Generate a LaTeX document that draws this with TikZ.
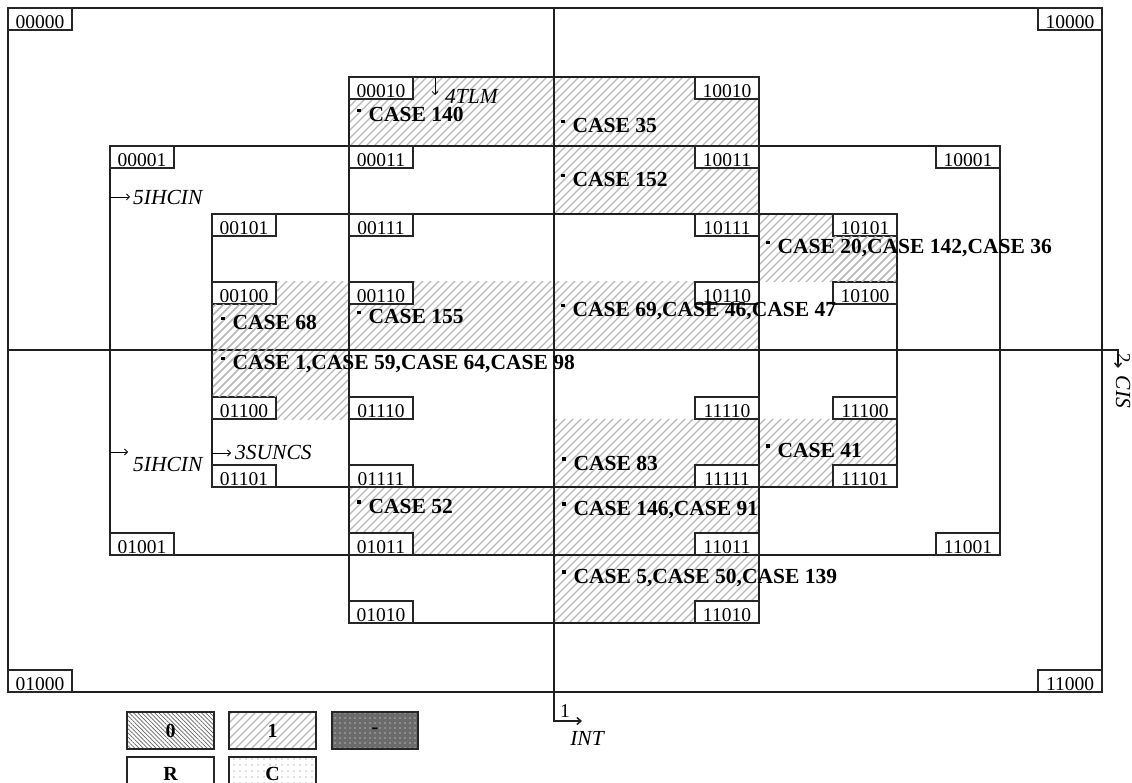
\documentclass[tikz,border=0pt]{standalone}
\usepackage{fontspec}
\setmainfont{Liberation Serif}
\usetikzlibrary{patterns.meta,arrows.meta}
\newcommand\casebul{\rule[9.5pt]{3.4pt}{3.4pt}\hspace{8pt}}
\newcommand\hatchrect[4]{%
  \begin{scope}
    \clip (#1,#2) rectangle (#3,#4);
    \foreach \c in {400,408,...,1400} \draw[hatchline] ({\c-#4-8},{#4+8}) -- ({\c-#2+8},{#2-8});
  \end{scope}}
% label box: name, x-left, y-top, text
\newcommand\cell[4]{%
  \draw[labbox] (#2,#3) rectangle ++(64,22);
  \node[labtxt] (#1) at ({#2+32},{#3+20.5}) {#4};}
\begin{document}
\begin{tikzpicture}[x=1pt,y=-1pt,
  gridline/.style={line width=1.5pt, draw=black!88},
  hatchline/.style={line width=1.3pt, draw=black!28},
  labbox/.style={draw=black!85, line width=1.2pt, fill=white},
  labtxt/.style={anchor=base, inner sep=0pt, font=\fontsize{19.5}{19.5}\selectfont},
  casetxt/.style={anchor=base west, inner sep=0pt, font=\fontsize{21.5}{22}\selectfont\bfseries},
  ital/.style={inner sep=0pt, font=\fontsize{21.5}{21.5}\selectfont\itshape},
  smallarr/.style={line width=0.8pt, -{Straight Barb[length=3pt,width=6pt]}},
  bigarr/.style={gridline, -{Straight Barb[length=4pt,width=7pt]}},
  legbox/.style={draw=black!85, line width=1.4pt},
  legtxt/.style={inner sep=0pt, font=\fontsize{20}{20}\selectfont\bfseries}
]
\useasboundingbox (0,0) rectangle (1132,783);
\clip (0,0) rectangle (1132,783);
\fill[white] (0,0) rectangle (1132,783);

% hatched regions (value 1)
\hatchrect{349}{77}{759}{146}
\hatchrect{554}{146}{759}{214}
\hatchrect{759}{214}{897}{282}
\hatchrect{212}{282}{349}{350}
\hatchrect{349}{282}{759}{350}
\hatchrect{212}{350}{349}{419}
\hatchrect{554}{419}{897}{487}
\hatchrect{349}{487}{759}{555}
\hatchrect{554}{555}{759}{623}

% grid
\draw[gridline] (8,8) rectangle (1102,692);
\draw[gridline] (110,146) rectangle (1000,555);
\draw[gridline] (212,214) rectangle (897,487);
\draw[gridline] (349,77) rectangle (759,623);
\coordinate (vtop) at (554,8);
\coordinate (vbend) at (554,721);
\coordinate (vend) at (582,721);
\draw[bigarr] (vtop) -- (vbend) -- (vend);
\coordinate (hleft) at (8,350);
\coordinate (hbend) at (1118,350);
\coordinate (hend) at (1118,368);
\draw[bigarr] (hleft) -- (hbend) -- (hend);

% cell labels (top-left corner given)
\cell{l00000}{8}{8}{00000}
\cell{l00010}{349}{77}{00010}
\cell{l00001}{110}{146}{00001}
\cell{l00011}{349}{146}{00011}
\cell{l00101}{212}{214}{00101}
\cell{l00111}{349}{214}{00111}
\cell{l00100}{212}{282}{00100}
\cell{l00110}{349}{282}{00110}

\cell{l10000}{1038}{8}{10000}
\cell{l10010}{695}{77}{10010}
\cell{l10001}{936}{146}{10001}
\cell{l10011}{695}{146}{10011}
\cell{l10111}{695}{214}{10111}
\cell{l10101}{833}{214}{10101}
\cell{l10110}{695}{282}{10110}
\cell{l10100}{833}{282}{10100}

\cell{l01100}{212}{397}{01100}
\cell{l01110}{349}{397}{01110}
\cell{l01101}{212}{465}{01101}
\cell{l01111}{349}{465}{01111}
\cell{l01001}{110}{533}{01001}
\cell{l01011}{349}{533}{01011}
\cell{l01010}{349}{601}{01010}
\cell{l01000}{8}{670}{01000}

\cell{l11110}{695}{397}{11110}
\cell{l11100}{833}{397}{11100}
\cell{l11111}{695}{465}{11111}
\cell{l11101}{833}{465}{11101}
\cell{l11011}{695}{533}{11011}
\cell{l11001}{936}{533}{11001}
\cell{l11010}{695}{601}{11010}
\cell{l11000}{1038}{670}{11000}

% hatch re-laid on parts next to label boxes
\hatchrect{212.8}{304.7}{276}{349.2}
\hatchrect{212.8}{350.8}{276}{396.3}
\hatchrect{833}{236.7}{896.2}{281.2}

% case texts
\node[casetxt] (c140) at (357,122) {\casebul CASE 140};
\node[casetxt] (c35) at (561,133) {\casebul CASE 35};
\node[casetxt] (c152) at (561,187) {\casebul CASE 152};
\node[casetxt] (c20) at (766,254) {\casebul CASE 20,CASE 142,CASE 36};
\node[casetxt] (c68) at (221,330) {\casebul CASE 68};
\node[casetxt] (c155) at (357,324) {\casebul CASE 155};
\node[casetxt] (c69) at (561,317) {\casebul CASE 69,CASE 46,CASE 47};
\node[casetxt] (c1) at (221,370) {\casebul CASE 1,CASE 59,CASE 64,CASE 98};
\node[casetxt] (c83) at (562,470) {\casebul CASE 83};
\node[casetxt] (c41) at (766,457) {\casebul CASE 41};
\node[casetxt] (c146) at (562,515) {\casebul CASE 146,CASE 91};
\node[casetxt] (c5) at (562,583) {\casebul CASE 5,CASE 50,CASE 139};
\node[casetxt] (c52) at (357,513) {\casebul CASE 52};

% variable markers
\coordinate (tlmA) at (435,78);
\coordinate (tlmB) at (435,95);
\draw[smallarr] (tlmA) -- (tlmB);
\node[ital, anchor=base west] (tlm) at (445,104) {4TLM};

\coordinate (ihcA) at (110,197);
\coordinate (ihcB) at (130,197);
\draw[smallarr] (ihcA) -- (ihcB);
\node[ital, anchor=base west] (ihc1) at (133,205) {5IHCIN};

\coordinate (ihcC) at (110,452);
\coordinate (ihcD) at (128,452);
\draw[smallarr] (ihcC) -- (ihcD);
\node[ital, anchor=base west] (ihc2) at (133,471) {5IHCIN};

\coordinate (sunA) at (212,453);
\coordinate (sunB) at (231,453);
\draw[smallarr] (sunA) -- (sunB);
\node[ital, anchor=base west] (suncs) at (235,459) {3SUNCS};

\node[inner sep=0pt, font=\fontsize{19.5}{19.5}\selectfont] (one) at (565,711) {1};
\node[ital] (int) at (587,738) {INT};
\node[inner sep=0pt, rotate=-90, font=\fontsize{19}{19}\selectfont] (two) at (1124,358) {2};
\node[ital, rotate=-90] (cis) at (1123,392) {CIS};

% legend
\path[pattern={Lines[angle=-45,distance=3pt,line width=0.7pt]}, pattern color=black!60] (127,712) rectangle (214,749);
\draw[legbox] (127,712) rectangle (214,749);
\node[legtxt] (lg0) at (170.5,730.5) {0};
\hatchrect{229}{712}{316}{749}
\draw[legbox] (229,712) rectangle (316,749);
\node[legtxt] (lg1) at (272.5,730.5) {1};
\fill[black!58] (332,712) rectangle (418,749);
\path[pattern={Dots[distance=5pt,radius=0.6pt]}, pattern color=white] (332,712) rectangle (418,749);
\draw[legbox] (332,712) rectangle (418,749);
\node[legtxt] (lgd) at (375,730.5) {-};
\draw[legbox] (127,757) rectangle (214,800);
\node[legtxt] (lgr) at (170.5,773.5) {R};
\path[pattern={Dots[distance=6pt,radius=0.6pt]}, pattern color=black!50] (229,757) rectangle (316,800);
\draw[legbox] (229,757) rectangle (316,800);
\node[legtxt] (lgc) at (272.5,773.5) {C};
\end{tikzpicture}
\end{document}
